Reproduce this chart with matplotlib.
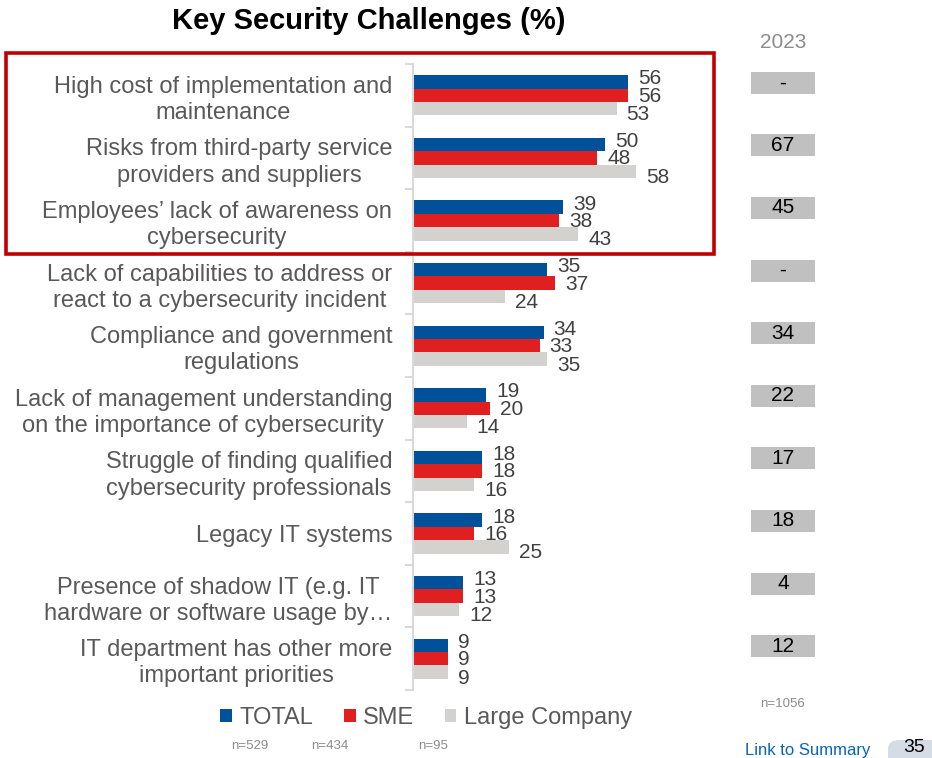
import matplotlib
matplotlib.use("Agg")
import matplotlib.pyplot as plt
import matplotlib.transforms as mtransforms
from matplotlib.patches import Patch, Rectangle, FancyBboxPatch
import numpy as np

plt.rcParams['font.family'] = ['Liberation Sans', 'DejaVu Sans']

categories = [
    "High cost of implementation and\nmaintenance",
    "Risks from third-party service\nproviders and suppliers",
    "Employees\u2019 lack of awareness on\ncybersecurity",
    "Lack of capabilities to address or\nreact to a cybersecurity incident",
    "Compliance and government\nregulations",
    "Lack of management understanding\non the importance of cybersecurity",
    "Struggle of finding qualified\ncybersecurity professionals",
    "Legacy IT systems",
    "Presence of shadow IT (e.g. IT\nhardware or software usage by\u2026",
    "IT department has other more\nimportant priorities",
]
total = [56, 50, 39, 35, 34, 19, 18, 18, 13, 9]
sme = [56, 48, 38, 37, 33, 20, 18, 16, 13, 9]
large = [53, 58, 43, 24, 35, 14, 16, 25, 12, 9]
values_2023 = ["-", "67", "45", "-", "34", "22", "17", "18", "4", "12"]
series_names = ["TOTAL", "SME", "Large Company"]
sample_sizes = ["n=529", "n=434", "n=95"]
sample_2023 = "n=1056"

W, H = 932, 758
fig = plt.figure(figsize=(W / 100, H / 100), dpi=100)


def fx(px):
    return px / W


def fy(py):
    return 1 - py / H


BLUE = "#00509A"
RED = "#E02020"
GREY = "#D3D2CE"
AXIS_GREY = "#D9D9D9"
TXT = "#595959"
VAL = "#404040"

ax = fig.add_axes([fx(413), fy(690), fx(701) - fx(413), fy(64) - fy(690)])
n = len(categories)
y = np.arange(n)
bh = 0.213

series = [total, sme, large]
colors = [BLUE, RED, GREY]
offsets = [-bh, 0, bh]
label_dy = [3, -1, -6]  # px, upward positive in offset points

for vals, col, off, dy in zip(series, colors, offsets, label_dy):
    ax.barh(y + off, vals, height=bh, color=col, edgecolor="none")
    for yi, v in zip(y, vals):
        ax.annotate(str(v), xy=(v, yi + off), xytext=(10 / 1.389, dy / 1.389),
                    textcoords="offset points", ha="left", va="center",
                    fontsize=15, color=VAL)

ax.set_xlim(0, 75)
ax.set_ylim(n - 0.5, -0.5)
for s in ["top", "right", "bottom"]:
    ax.spines[s].set_visible(False)
ax.spines["left"].set_color(AXIS_GREY)
ax.spines["left"].set_linewidth(1.5)
ax.set_xticks([])
ax.set_yticks(y)
ax.set_yticklabels(categories, fontsize=17, color=TXT, ha="right",
                   multialignment="center", linespacing=1.25)
ax.tick_params(axis="y", which="major", length=0, pad=15)
ax.set_yticks(np.arange(-0.5, n, 1.0), minor=True)
ax.tick_params(axis="y", which="minor", length=5.8, width=1.5,
               color=AXIS_GREY, direction="out")

# Title
fig.text(fx(369), fy(21), "Key Security Challenges (%)", ha="center",
         va="center", fontsize=21, fontweight="bold", color="black")

# Highlight box around the top three challenges
fig.patches.append(Rectangle((fx(6), fy(254)), fx(714) - fx(6), fy(53) - fy(254),
                             transform=fig.transFigure, fill=False,
                             edgecolor="#C00000", linewidth=2.6))

# 2023 comparison column
fig.text(fx(783), fy(42), "2023", ha="center", va="center", fontsize=15,
         color="#8C8C8C")
blend = mtransforms.blended_transform_factory(fig.transFigure, ax.transData)
box_h = 22 / 62.6
for yi, txt in zip(y, values_2023):
    yc = yi - 0.2
    fig.patches.append(Rectangle((fx(751), yc + box_h / 2), fx(815) - fx(751),
                                 -box_h, transform=blend, facecolor="#C0C0C0",
                                 edgecolor="none", clip_on=False))
    fig.text(fx(783), yc, txt, transform=blend, ha="center", va="center",
             fontsize=15, color="black")
fig.text(fx(783), fy(704), sample_2023, ha="center", va="center", fontsize=9.5,
         color="#8C8C8C")

# Legend
handles = [Patch(facecolor=c, edgecolor="none") for c in colors]
fig.legend(handles, series_names, loc="center", bbox_to_anchor=(fx(426), fy(718)),
           ncol=3, frameon=False, fontsize=17, handlelength=0.5,
           handleheight=0.5, handletextpad=0.3, columnspacing=1.3,
           labelcolor=TXT)
for xc, s in zip([250, 330, 433], sample_sizes):
    fig.text(fx(xc), fy(746), s, ha="center", va="center", fontsize=9.5,
             color="#8C8C8C")

# Footer
fig.text(fx(808), fy(751), "Link to Summary", ha="center", va="center",
         fontsize=12, color="#0563C1")
fig.patches.append(FancyBboxPatch((fx(888), fy(775)), fx(960) - fx(888),
                                  fy(740) - fy(775), boxstyle="round,pad=0,rounding_size=0.012",
                                  transform=fig.transFigure, facecolor="#D6DCE5",
                                  edgecolor="none"))
fig.text(fx(914), fy(748), "35", ha="center", va="center", fontsize=14,
         color="black")

fig.savefig("out.png", dpi=100)
